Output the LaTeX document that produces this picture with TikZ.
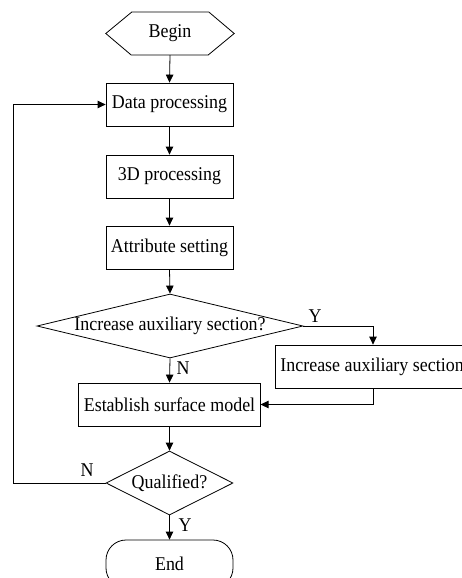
\documentclass[tikz,border=0pt]{standalone}
\usepackage{fontspec}
\setmainfont{Liberation Serif}[FakeStretch=0.92]
\usetikzlibrary{arrows.meta,shapes.geometric}
\begin{document}
\begin{tikzpicture}[x=1pt,y=-1pt,
  every node/.style={font=\fontsize{19.5}{21}\selectfont},
  line/.style={line width=0.8pt},
  arr/.style={line, -{Triangle[length=8pt,width=7.5pt]}},
  procbox/.style={draw, line width=0.8pt, rectangle, minimum height=43pt, inner xsep=5pt},
  decision/.style={draw, line width=0.8pt, diamond, inner sep=0pt},
  lbl/.style={inner sep=0pt}]
\useasboundingbox (0,0) rectangle (462,578);
% Begin (hexagon)
\node (begin) [minimum width=128pt, minimum height=43pt, inner sep=0pt] at (170,33.5) {Begin};
\draw[line] (begin.west) -- ++(26,-21.5) -- ++(77,0) -- (begin.east) -- ++(-26,21.5) -- ++(-77,0) -- cycle;
% Boxes
\node (dp) [procbox, minimum width=127pt] at (169.5,104.5) {Data processing};
\node (td) [procbox, minimum width=127pt] at (169.5,176.5) {3D processing};
\node (as) [procbox, minimum width=127pt] at (169.5,247.5) {Attribute setting};
\node (d1) [decision, minimum width=266pt, minimum height=64pt] at (170,326) {\makebox[0pt]{Increase auxiliary section?}};
\node (aux) [procbox, anchor=west] at (275,366.5) {Increase auxiliary section};
\node (est) [procbox, minimum width=181pt] at (169.5,404.5) {Establish surface model};
\node (d2) [decision, minimum width=127pt, minimum height=64pt] at (169.5,483) {\makebox[0pt]{Qualified?}};
\node (end) [draw, line width=0.8pt, rounded corners=20pt, minimum width=127pt, minimum height=48pt] at (169.5,564) {End};
% helper coordinates
\coordinate (ax) at (373,0);
\coordinate (lx) at (13,0);
% Connectors
\draw[arr] (begin.south) -- (dp.north);
\draw[arr] (dp.south) -- (td.north);
\draw[arr] (td.south) -- (as.north);
\draw[arr] (as.south) -- (d1.north);
\draw[arr] (d1.east) -| (ax |- aux.north);
\draw[arr] (d1.south) -- (est.north);
\draw[arr] (ax |- aux.south) |- (est.east);
\draw[arr] (est.south) -- (d2.north);
\draw[arr] (d2.west) -- (d2.west -| lx) |- (dp.west);
\draw[arr] (d2.south) -- (end.north);
% Labels
\node[lbl] (ly1) at (315,316) {Y};
\node[lbl] (ln1) at (183,368) {N};
\node[lbl] (ln2) at (87,470) {N};
\node[lbl] (ly2) at (185,525) {Y};
\end{tikzpicture}
\end{document}
